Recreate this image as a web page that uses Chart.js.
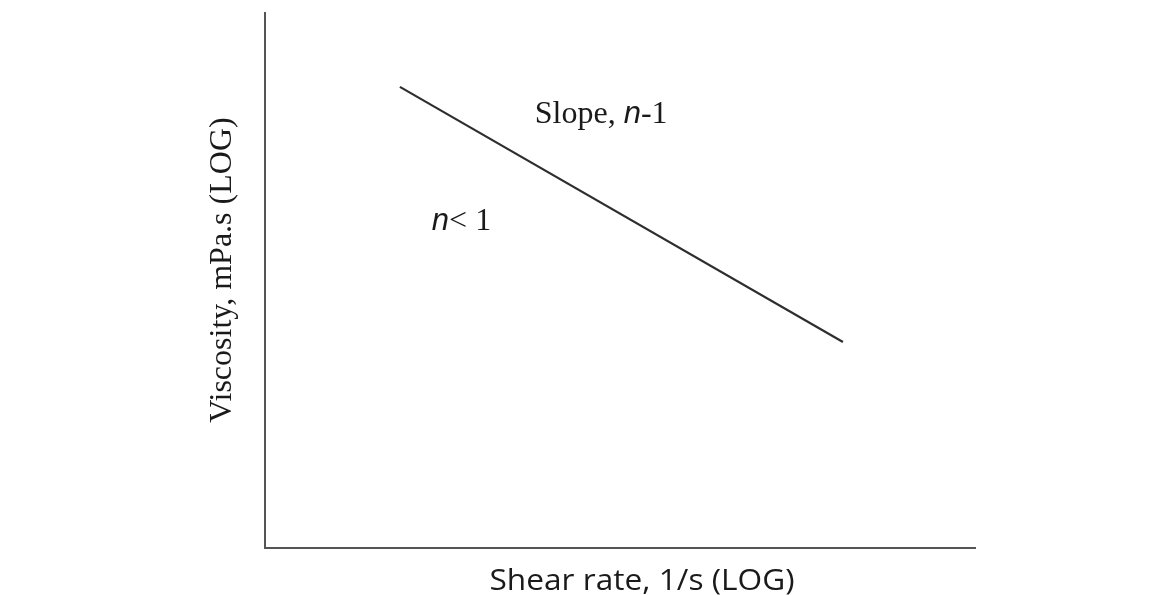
<!DOCTYPE html>
<html>
<head>
<meta charset="utf-8">
<title>Viscosity vs shear rate</title>
<script src="https://cdn.jsdelivr.net/npm/chart.js@4.4.1/dist/chart.umd.min.js"></script>
<style>
  html, body { margin: 0; padding: 0; background: #fff; }
  #chart { display: block; }
</style>
</head>
<body>
<canvas id="chart" width="1165" height="595"></canvas>
<script>
// log shear rate / log viscosity, arbitrary units (axes have no ticks)
const shearRate = [1.9, 8.14];
const viscosity = [8.62, 3.85];
const axisRange = { min: 0, max: 10 };

const xTitle = "Shear rate, 1/s (LOG)";
const yTitle = "Viscosity, mPa.s (LOG)";

// text notes on the plot, placed in data coords
const notes = [
  { x: 3.8, y: 7.94, parts: [["Slope, ", "serif"], ["n", "italic"], ["-1", "serif"]] },
  { x: 2.35, y: 5.94, parts: [["n", "italic"], ["< 1", "serif"]] }
];

const serifFont = "32px 'Liberation Serif', 'Times New Roman', serif";
const italicFont = "italic 31px 'Liberation Sans', Arial, sans-serif";

const points = shearRate.map((x, i) => ({ x: x, y: viscosity[i] }));

// draws the annotations and the axis titles
const textPlugin = {
  id: "textPlugin",
  afterDraw(chart) {
    const ctx = chart.ctx;
    const xs = chart.scales.x, ys = chart.scales.y;
    ctx.save();
    ctx.fillStyle = "#1a1a1a";
    ctx.textBaseline = "alphabetic";
    ctx.textAlign = "left";
    notes.forEach(n => {
      let px = xs.getPixelForValue(n.x);
      const py = ys.getPixelForValue(n.y);
      n.parts.forEach(p => {
        ctx.font = p[1] === "italic" ? italicFont : serifFont;
        ctx.fillText(p[0], px, py);
        px += ctx.measureText(p[0]).width;
      });
    });

    // x title (a bit wider than Open Sans, like Calibri in the original)
    ctx.save();
    ctx.font = "29px 'Open Sans', sans-serif";
    ctx.textAlign = "center";
    const w = ctx.measureText(xTitle).width;
    ctx.translate(642, 590);
    ctx.scale(305 / w, 1);
    ctx.fillText(xTitle, 0, 0);
    ctx.restore();

    // y title, rotated
    ctx.translate(231, 270);
    ctx.rotate(-Math.PI / 2);
    ctx.textAlign = "center";
    ctx.font = "32px 'Liberation Serif', 'Times New Roman', serif";
    ctx.fillText(yTitle, 0, 0);
    ctx.restore();
  }
};

new Chart(document.getElementById("chart"), {
  type: "scatter",
  data: {
    datasets: [{
      data: points,
      showLine: true,
      borderColor: "#2e2e2e",
      borderWidth: 2.2,
      pointRadius: 0,
      pointHoverRadius: 0
    }]
  },
  options: {
    responsive: false,
    animation: false,
    layout: { padding: { left: 265, top: 13, right: 190, bottom: 47 } },
    plugins: { legend: { display: false }, tooltip: { enabled: false } },
    scales: {
      x: {
        min: axisRange.min, max: axisRange.max,
        ticks: { display: false },
        grid: { display: false },
        border: { display: true, color: "#555", width: 2 },
        afterFit(scale) { scale.height = 0; }
      },
      y: {
        min: axisRange.min, max: axisRange.max,
        ticks: { display: false },
        grid: { display: false },
        border: { display: true, color: "#555", width: 2 },
        afterFit(scale) { scale.width = 0; }
      }
    }
  },
  plugins: [textPlugin]
});
</script>
</body>
</html>
